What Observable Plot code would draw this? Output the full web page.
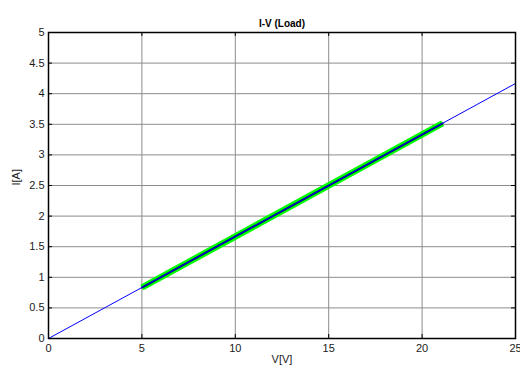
<!DOCTYPE html>
<html>
<head>
<meta charset="utf-8">
<script src="https://cdn.jsdelivr.net/npm/d3@7"></script>
<script src="https://cdn.jsdelivr.net/npm/@observablehq/plot@0.6"></script>
<style>
  html, body { margin: 0; padding: 0; background: #fff; }
  #chart svg { display: block; }
</style>
</head>
<body>
<div id="chart"></div>
<script>
// Load line of a 6 Ω resistor: I = V / R
const loadV = [0, 25];
const loadI = [0, 4.167];

// Measured operating points along the load line
const measV = [5, 21.1];
const measI = [0.833, 3.517];

// Axis ticks
const xTicks = [0, 5, 10, 15, 20, 25];
const yTicks = [0, 0.5, 1, 1.5, 2, 2.5, 3, 3.5, 4, 4.5, 5];

const loadLine = loadV.map((v, i) => ({v, i: loadI[i]}));
const measLine = measV.map((v, i) => ({v, i: measI[i]}));

const W = 520, H = 369;
const mL = 48, mR = 5, mT = 32, mB = 31;
const innerH = H - mT - mB;
const tickLen = 4;
const font = "Liberation Sans, Arial, sans-serif";
const fmt = (d) => String(d);

const chart = Plot.plot({
  width: W,
  height: H,
  marginLeft: mL,
  marginRight: mR,
  marginTop: mT,
  marginBottom: mB,
  style: {fontFamily: font, fontSize: "11px", color: "#1a1a1a", background: "#fff"},
  x: {domain: [0, 25], ticks: xTicks},
  y: {domain: [0, 5], ticks: yTicks},
  marks: [
    Plot.gridX(xTicks, {stroke: "#8c8c8c", strokeOpacity: 1}),
    Plot.gridY(yTicks, {stroke: "#8c8c8c", strokeOpacity: 1}),
    // inward tick marks on all four sides
    Plot.ruleX(xTicks, {stroke: "#000", insetTop: innerH - tickLen}),
    Plot.ruleX(xTicks, {stroke: "#000", insetBottom: innerH - tickLen}),
    Plot.ruleY(yTicks, {stroke: "#000", insetLeft: W - mL - mR - tickLen}),
    Plot.ruleY(yTicks, {stroke: "#000", insetRight: W - mL - mR - tickLen}),
    Plot.line(measLine, {x: "v", y: "i", stroke: "#00ff00", strokeWidth: 6.5, strokeLinecap: "butt"}),
    Plot.line(measLine, {x: "v", y: "i", stroke: "#000060", strokeWidth: 2}),
    Plot.line(loadLine, {x: "v", y: "i", stroke: "#0000ff", strokeWidth: 1}),
    Plot.frame({stroke: "#000", strokeWidth: 1.5}),
    Plot.axisX(xTicks, {tickSize: 0, tickPadding: 6, label: null, fontSize: 11, tickFormat: fmt}),
    Plot.axisY(yTicks, {tickSize: 0, tickPadding: 4, label: null, fontSize: 11, tickFormat: fmt}),
    Plot.text(["I-V (Load)"], {frameAnchor: "top", dy: -13, fontWeight: "bold", fontSize: 10, fill: "#000"}),
    Plot.text(["V[V]"], {frameAnchor: "bottom", dy: 24, fontSize: 11, fill: "#1a1a1a"}),
    Plot.text(["I[A]"], {frameAnchor: "left", dx: -32, rotate: -90, fontSize: 11, fill: "#1a1a1a"})
  ]
});

document.getElementById("chart").appendChild(chart);
</script>
</body>
</html>
